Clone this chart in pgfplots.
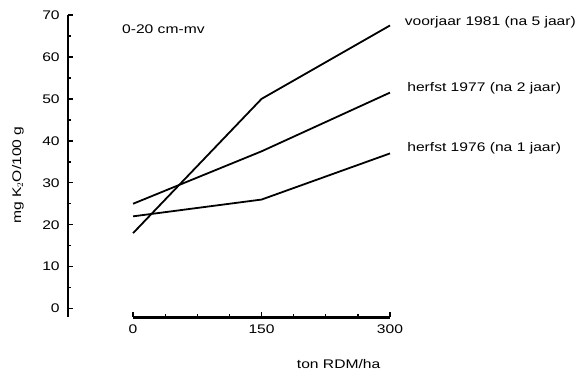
\documentclass[border=0pt]{standalone}
\usepackage{fontspec}
\setmainfont{Liberation Sans}[FakeStretch=1.25]
\usepackage{pgfplots}
\pgfplotsset{compat=1.18}
\usetikzlibrary{calc}

\pgfplotstableread{
x    y
0    18
150  50
300  67.5
}\voorjaarEightyOne
\pgfplotstableread{
x    y
0    25
150  37.5
300  51.5
}\herfstSeventySeven
\pgfplotstableread{
x    y
0    22
150  26
300  37
}\herfstSeventySix

\begin{document}
\fontsize{12.5}{15}\selectfont
\begin{tikzpicture}
\begin{axis}[
  scale only axis,
  width=322pt, height=302pt,
  xmin=-76, xmax=300, ymin=-2, ymax=70,
  axis x line*=bottom, axis y line*=left,
  x axis line style={draw=none},
  y axis line style={black, line width=1.8pt},
  clip=false,
  xtick={0,150,300},
  minor xtick={37.5,75,112.5,187.5,225,262.5},
  ytick={0,10,...,70},
  minor ytick={5,15,...,65},
  xtick align=inside, ytick align=inside,
  major tick length=5pt, minor tick length=3.5pt,
  tick style={black, line width=1.4pt},
  /pgf/number format/assume math mode=true,
  tick label style={font=\fontsize{12.5}{15}\selectfont},
  xticklabel style={yshift=-3pt},
  yticklabel style={xshift=-4pt},
]
% horizontal axis line, starting at zero rather than at the vertical axis
\fill[black] ($(axis cs:0,-2)+(0pt,-1.5pt)$) rectangle ($(axis cs:300,-2)+(0pt,1.5pt)$);

\addplot[black, line width=1.8pt, mark=none] table[x=x, y=y] {\voorjaarEightyOne};
\addplot[black, line width=1.8pt, mark=none] table[x=x, y=y] {\herfstSeventySeven};
\addplot[black, line width=1.8pt, mark=none] table[x=x, y=y] {\herfstSeventySix};

\node[anchor=west, inner sep=0pt] at (axis cs:317,68.3) {voorjaar 1981 (na 5 jaar)};
\node[anchor=west, inner sep=0pt] at (axis cs:320,52.6) {herfst 1977 (na 2 jaar)};
\node[anchor=west, inner sep=0pt] at (axis cs:320,38.3) {herfst 1976 (na 1 jaar)};
\node[anchor=west, inner sep=0pt] at (axis cs:-13,66.7) {0-20 cm-mv};

\node[rotate=90, inner sep=0pt] at ($(rel axis cs:0,0.47)+(-50pt,0pt)$) {mg K$_2$O/100 g};
\node[inner sep=0pt] at ($(axis cs:240,-2)+(0pt,-47pt)$) {ton RDM/ha};

\path (rel axis cs:0,0) ++(-68pt,-53pt) rectangle ++(580pt,370pt);
\end{axis}
\end{tikzpicture}
\end{document}
